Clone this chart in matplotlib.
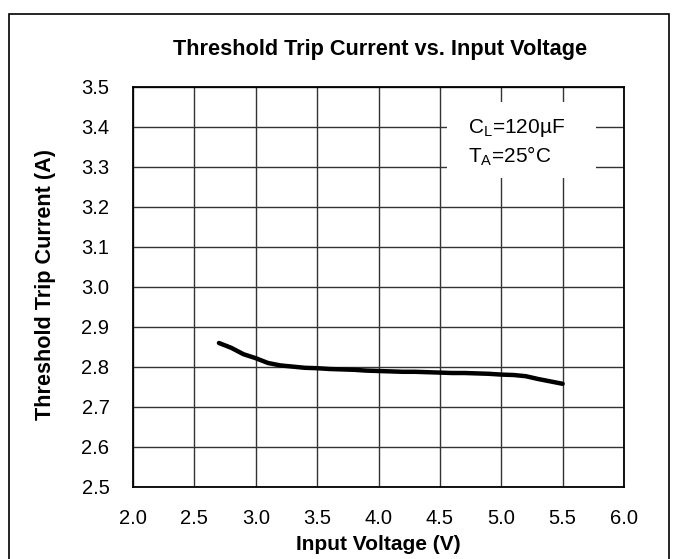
import matplotlib
matplotlib.use("Agg")
import matplotlib.pyplot as plt
from matplotlib.patches import Rectangle

plt.rcParams['font.family'] = ['Liberation Sans', 'DejaVu Sans']
plt.rcParams['mathtext.fontset'] = 'custom'
plt.rcParams['mathtext.rm'] = 'Liberation Sans'

# data
vin = [2.7, 2.8, 2.9, 3.0, 3.1, 3.2, 3.3, 3.4, 3.5, 3.6, 3.7, 3.8, 3.9, 4.0,
       4.1, 4.2, 4.3, 4.4, 4.5, 4.6, 4.7, 4.8, 4.9, 5.0, 5.1, 5.2, 5.3, 5.4, 5.5]
itrip = [2.860, 2.848, 2.832, 2.822, 2.810, 2.804, 2.801, 2.798, 2.797, 2.795,
         2.794, 2.793, 2.791, 2.790, 2.789, 2.788, 2.788, 2.787, 2.786, 2.785,
         2.785, 2.784, 2.783, 2.781, 2.780, 2.777, 2.770, 2.764, 2.758]
xticks = [2.0, 2.5, 3.0, 3.5, 4.0, 4.5, 5.0, 5.5, 6.0]
yticks = [2.5, 2.6, 2.7, 2.8, 2.9, 3.0, 3.1, 3.2, 3.3, 3.4, 3.5]

W, H = 678, 559
fig = plt.figure(figsize=(W / 100, H / 100), dpi=100)
ax = fig.add_axes([133 / W, 1 - 487 / H, 491 / W, 400 / H])

# outer frame (runs off the bottom edge)
fig.patches.append(Rectangle((9 / W, -0.05), 660 / W, 1 - 14 / H + 0.05,
                             transform=fig.transFigure, fill=False,
                             edgecolor='black', linewidth=1.2))

ax.plot(vin, itrip, color='black', linewidth=3.2, solid_capstyle='round', zorder=3)

ax.set_xlim(2.0, 6.0)
ax.set_ylim(2.5, 3.5)
ax.set_xticks(xticks)
ax.set_yticks(yticks)
ax.set_xticklabels([f"{v:.1f}" for v in xticks])
ax.set_yticklabels([f"{v:.1f}" for v in yticks])
ax.tick_params(length=0, labelsize=14.5)
ax.tick_params(axis='x', pad=16)
ax.tick_params(axis='y', pad=17)
ax.grid(True, color='#333333', linewidth=1.0)
ax.set_axisbelow(True)
for s in ax.spines.values():
    s.set_linewidth(1.3)

# note box
ax.add_patch(Rectangle((4.56, 3.272), 1.21, 0.191, facecolor='white',
                       edgecolor='none', zorder=2))
ax.text(4.73, 3.385, r'C$_\mathregular{L}$=120µF', fontsize=15, va='baseline', zorder=4)
ax.text(4.73, 3.3125, r'T$_\mathregular{A}$=25°C', fontsize=15, va='baseline', zorder=4)

fig.text(380 / W, 1 - 50 / H, "Threshold Trip Current vs. Input Voltage",
         fontsize=15.7, fontweight='bold', ha='center', va='center')
fig.text(378 / W, 1 - 545 / H, "Input Voltage (V)",
         fontsize=15, fontweight='bold', ha='center', va='center')
fig.text(46 / W, 1 - 284 / H, "Threshold Trip Current (A)", rotation=90,
         fontsize=15.6, fontweight='bold', ha='center', va='center')

fig.savefig("out.png", dpi=100)
